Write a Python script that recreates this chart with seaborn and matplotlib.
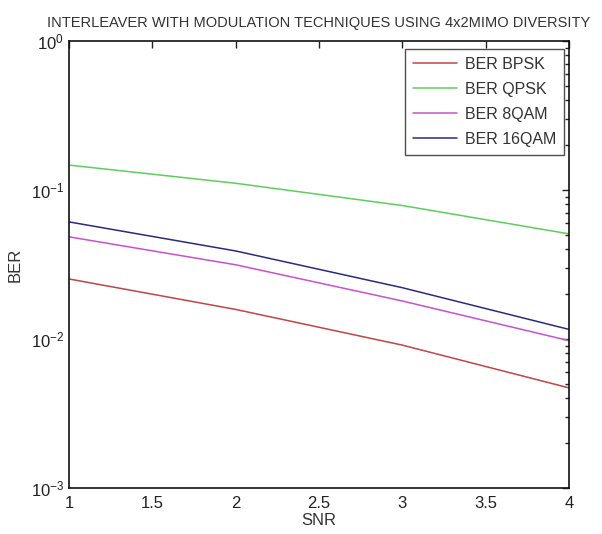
import pandas as pd
import matplotlib
matplotlib.use("Agg")
import matplotlib.pyplot as plt
from matplotlib.ticker import LogLocator, FixedLocator
import seaborn as sns

# values
snr = [1, 2, 3, 4]
ber_bpsk = [0.0253, 0.0158, 0.0091, 0.0047]
ber_qpsk = [0.147, 0.111, 0.0787, 0.0508]
ber_8qam = [0.0485, 0.0315, 0.0180, 0.00975]
ber_16qam = [0.0611, 0.0390, 0.0221, 0.0116]

labels = ['BER BPSK', 'BER QPSK', 'BER 8QAM', 'BER 16QAM']
colors = ['#c04545', '#5ccf5c', '#cc4fcc', '#2a2a80']
x_ticks = [1, 1.5, 2, 2.5, 3, 3.5, 4]

rows = []
for name, vals in zip(labels, [ber_bpsk, ber_qpsk, ber_8qam, ber_16qam]):
    for s, v in zip(snr, vals):
        rows.append({'SNR': s, 'BER': v, 'Series': name})
df = pd.DataFrame(rows)

sns.set_style("white")
plt.rcParams['font.family'] = ['Liberation Sans', 'DejaVu Sans']
plt.rcParams['mathtext.default'] = 'regular'
plt.rcParams['text.color'] = '#333333'
plt.rcParams['axes.labelcolor'] = '#333333'
plt.rcParams['xtick.color'] = '#222222'
plt.rcParams['ytick.color'] = '#222222'

fig = plt.figure(figsize=(6.02, 5.34), dpi=100)
ax = fig.add_axes([0.1146, 0.0861, 0.8306, 0.8371])

sns.lineplot(data=df, x='SNR', y='BER', hue='Series', hue_order=labels,
             palette=colors, linewidth=1.1, ax=ax)

ax.set_yscale('log')
ax.set_xlim(1, 4)
ax.set_ylim(1e-3, 1)
ax.xaxis.set_major_locator(FixedLocator(x_ticks))
ax.set_xticklabels([('%g' % t) for t in x_ticks])
ax.yaxis.set_major_locator(LogLocator(base=10, numticks=10))
ax.yaxis.set_minor_locator(LogLocator(base=10, subs=range(2, 10), numticks=20))
ax.yaxis.set_minor_formatter(plt.NullFormatter())

ax.tick_params(which='both', direction='in', top=True, right=True, labelsize=12)
ax.tick_params(which='major', length=5, width=1)
ax.tick_params(which='minor', length=3, width=1)
ax.tick_params(axis='x', pad=6)
for sp in ax.spines.values():
    sp.set_color('#111111')
    sp.set_linewidth(1.2)

ax.set_xlabel('SNR', fontsize=12, labelpad=1)
ax.set_ylabel('BER', fontsize=12, labelpad=6)
ax.set_title('INTERLEAVER WITH MODULATION TECHNIQUES USING 4x2MIMO DIVERSITY',
             fontsize=10.5, pad=10)

leg = ax.legend(loc='upper right', bbox_to_anchor=(0.99, 0.982), borderaxespad=0,
                fontsize=11.5, handlelength=2.8, handletextpad=0.45, frameon=True,
                fancybox=False, labelspacing=0.62, borderpad=0.5)
leg.get_frame().set_edgecolor('#222222')
leg.get_frame().set_linewidth(1.0)

fig.savefig('out.png', dpi=100)
